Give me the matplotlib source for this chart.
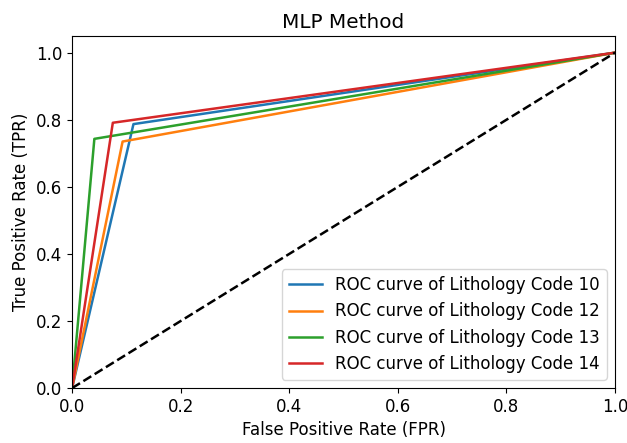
import matplotlib
matplotlib.use("Agg")
import matplotlib.pyplot as plt

# ROC points (FPR, TPR) per lithology code
codes = [10, 12, 13, 14]
fpr = {
    10: [0.0, 0.113, 1.0],
    12: [0.0, 0.093, 1.0],
    13: [0.0, 0.041, 1.0],
    14: [0.0, 0.075, 1.0],
}
tpr = {
    10: [0.0, 0.787, 1.0],
    12: [0.0, 0.735, 1.0],
    13: [0.0, 0.743, 1.0],
    14: [0.0, 0.791, 1.0],
}
colors = ["#1f77b4", "#ff7f0e", "#2ca02c", "#d62728"]

plt.rcParams["font.size"] = 12

fig = plt.figure(figsize=(6.27, 4.43), dpi=100)
ax = fig.add_axes([0.115, 0.124, 0.866, 0.795])

for code, c in zip(codes, colors):
    ax.plot(fpr[code], tpr[code], color=c, linewidth=1.8,
            label=f"ROC curve of Lithology Code {code}")
ax.plot([0, 1], [0, 1], "k--", linewidth=1.8)

ax.set_xlim(0.0, 1.0)
ax.set_ylim(0.0, 1.05)
ax.set_xlabel("False Positive Rate (FPR)")
ax.set_ylabel("True Positive Rate (TPR)")
ax.set_title("MLP Method")
ax.legend(loc="lower right")

fig.savefig("out.png", dpi=100)
